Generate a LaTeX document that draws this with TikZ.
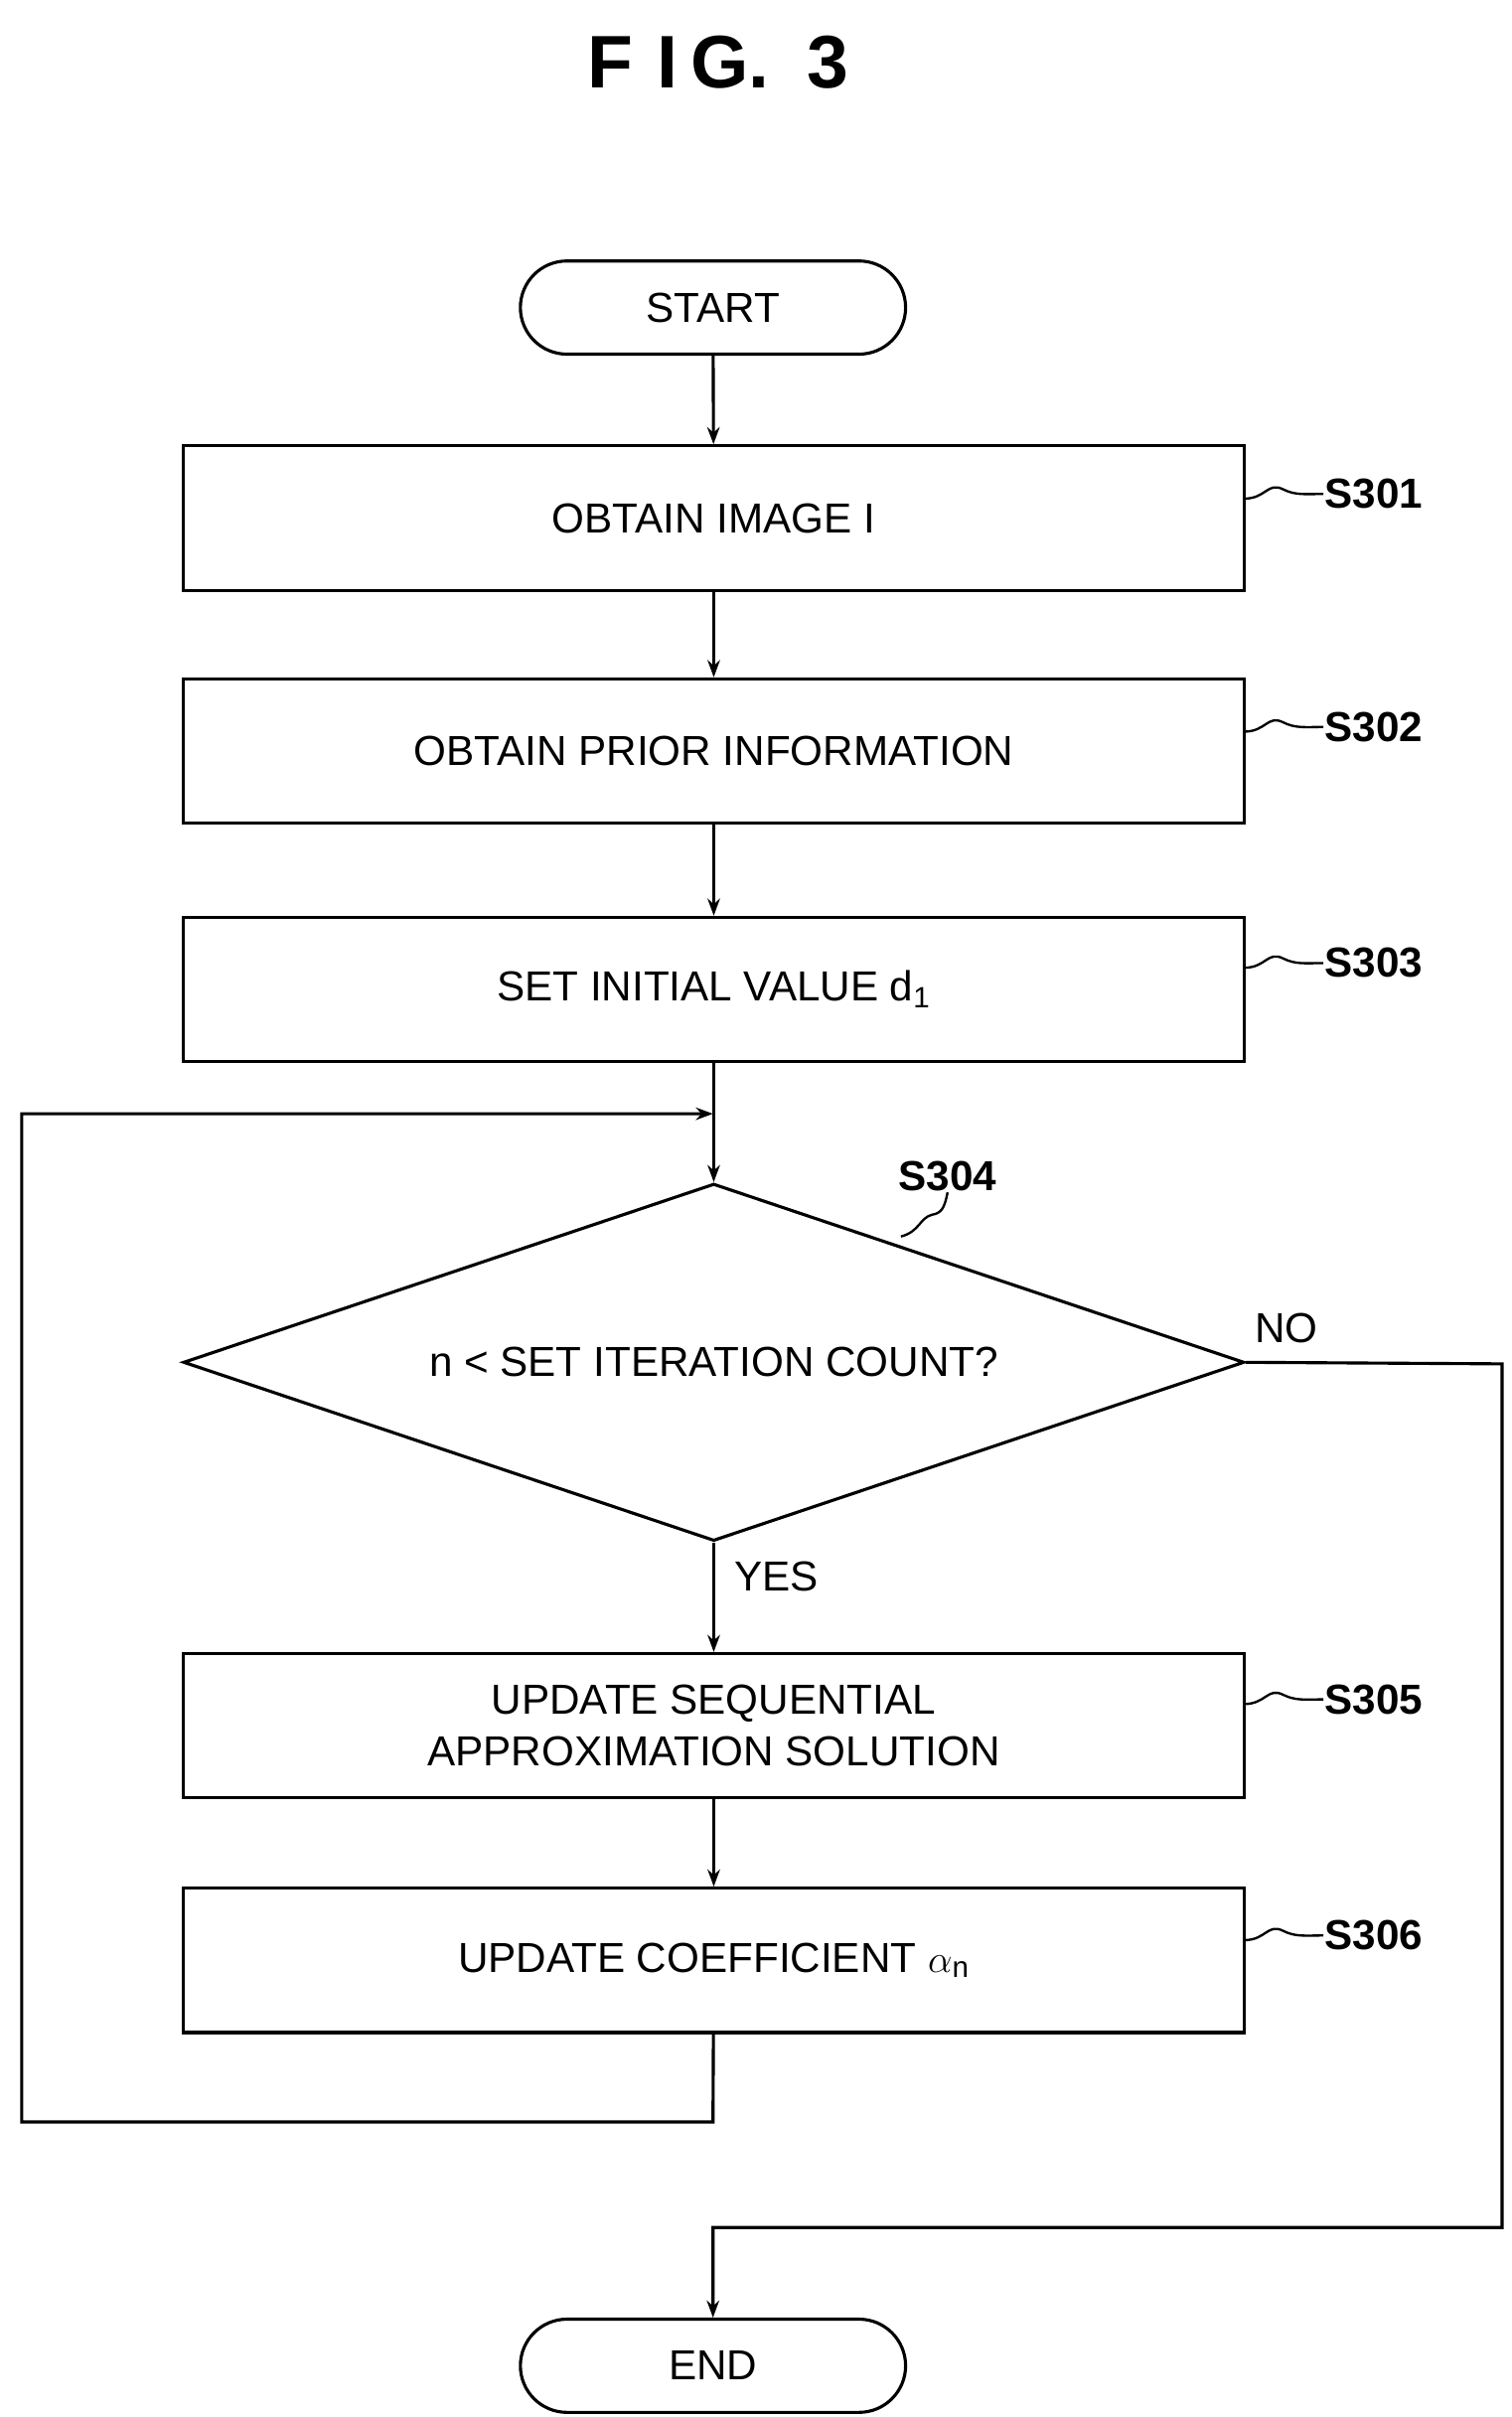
\documentclass[tikz,border=0pt]{standalone}
\usepackage{fontspec}
\setmainfont{Liberation Sans}
\usetikzlibrary{shapes.geometric,arrows.meta}
\tikzset{every picture/.style={line width=2pt}}
\tikzset{
  procbox/.style={draw,minimum width=683pt,minimum height=93pt,inner sep=0pt,align=center,font=\fontsize{27}{33}\selectfont},
  term/.style={draw,rounded corners=30pt,minimum width=248pt,minimum height=60pt,inner sep=0pt,font=\fontsize{27}{33}\selectfont},
  stepno/.style={font=\bfseries\fontsize{27}{33}\selectfont,inner sep=0pt},
  flow/.style={-{Stealth[length=11pt,width=8pt]}},
  tilde/.style={line width=1.5pt},
}
\begin{document}
\begin{tikzpicture}[x=1pt,y=1pt,yscale=-1,xscale=1]
\useasboundingbox (0,0) rectangle (973,1556);

% Title
\node (title) at (462,40) {\bfseries\fontsize{48}{54}\selectfont F\,\,I\,G.\,\,\,3};

% Terminals and steps
\node[term] (start) at (459,198) {START};
\node[procbox] (s301) at (459.5,333.5) {OBTAIN IMAGE I};
\node[procbox] (s302) at (459.5,483.5) {OBTAIN PRIOR INFORMATION};
\node[procbox] (s303) at (459.5,637) {SET INITIAL VALUE d\textsubscript{1}};
\node[draw,diamond,aspect=2.97,minimum width=683pt,minimum height=230pt,inner sep=0pt,font=\fontsize{27}{33}\selectfont] (s304) at (459.5,877) {n < SET ITERATION COUNT?};
\node[procbox] (s305) at (459.5,1111) {UPDATE SEQUENTIAL\\APPROXIMATION SOLUTION};
\node[procbox] (s306) at (459.5,1262) {UPDATE COEFFICIENT $\alpha$\textsubscript{n}};
\node[term] (end) at (459,1523) {END};

% Step numbers
\node[stepno,anchor=west] (n301) at (852,318) {S301};
\node[stepno,anchor=west] (n302) at (852,468) {S302};
\node[stepno,anchor=west] (n303) at (852,620) {S303};
\node[stepno] (n304) at (610,757) {S304};
\node[stepno,anchor=west] (n305) at (852,1094) {S305};
\node[stepno,anchor=west] (n306) at (852,1246) {S306};
\foreach \s/\y in {301/318,302/468,303/620,305/1094,306/1246}
  \draw[tilde] (801,\y+3) .. controls (815,\y+3) and (816,\y-8) .. (826,\y-3) .. controls (834,\y+1) and (840,\y) .. (n\s.west);
\draw[tilde] (580,796) .. controls (592,793) and (592,784) .. (600,782) .. controls (606,781) and (608,778) .. (n304.south);

% Branch labels
\node[font=\fontsize{27}{33}\selectfont] (no) at (828,855) {NO};
\node[font=\fontsize{27}{33}\selectfont] (yes) at (500,1015) {YES};

% Connectors
\coordinate (loopin) at (459,717);
\coordinate (loopbot) at (459,1366);
\coordinate (noright) at (967,878);
\coordinate (nodown) at (967,1434);
\coordinate (endin) at (459,1434);
\draw[flow] (start) -- (s301);
\draw[flow] (s301) -- (s302);
\draw[flow] (s302) -- (s303);
\draw[flow] (s303) -- (s304);
\draw[flow] (s304) -- (s305);
\draw[flow] (s305) -- (s306);
\draw[flow] (s306) -- (loopbot) -| (14,717) -- (loopin);
\draw[flow] (s304.east) -- (noright) -- (nodown) -- (endin) -- (end);

\end{tikzpicture}
\end{document}
